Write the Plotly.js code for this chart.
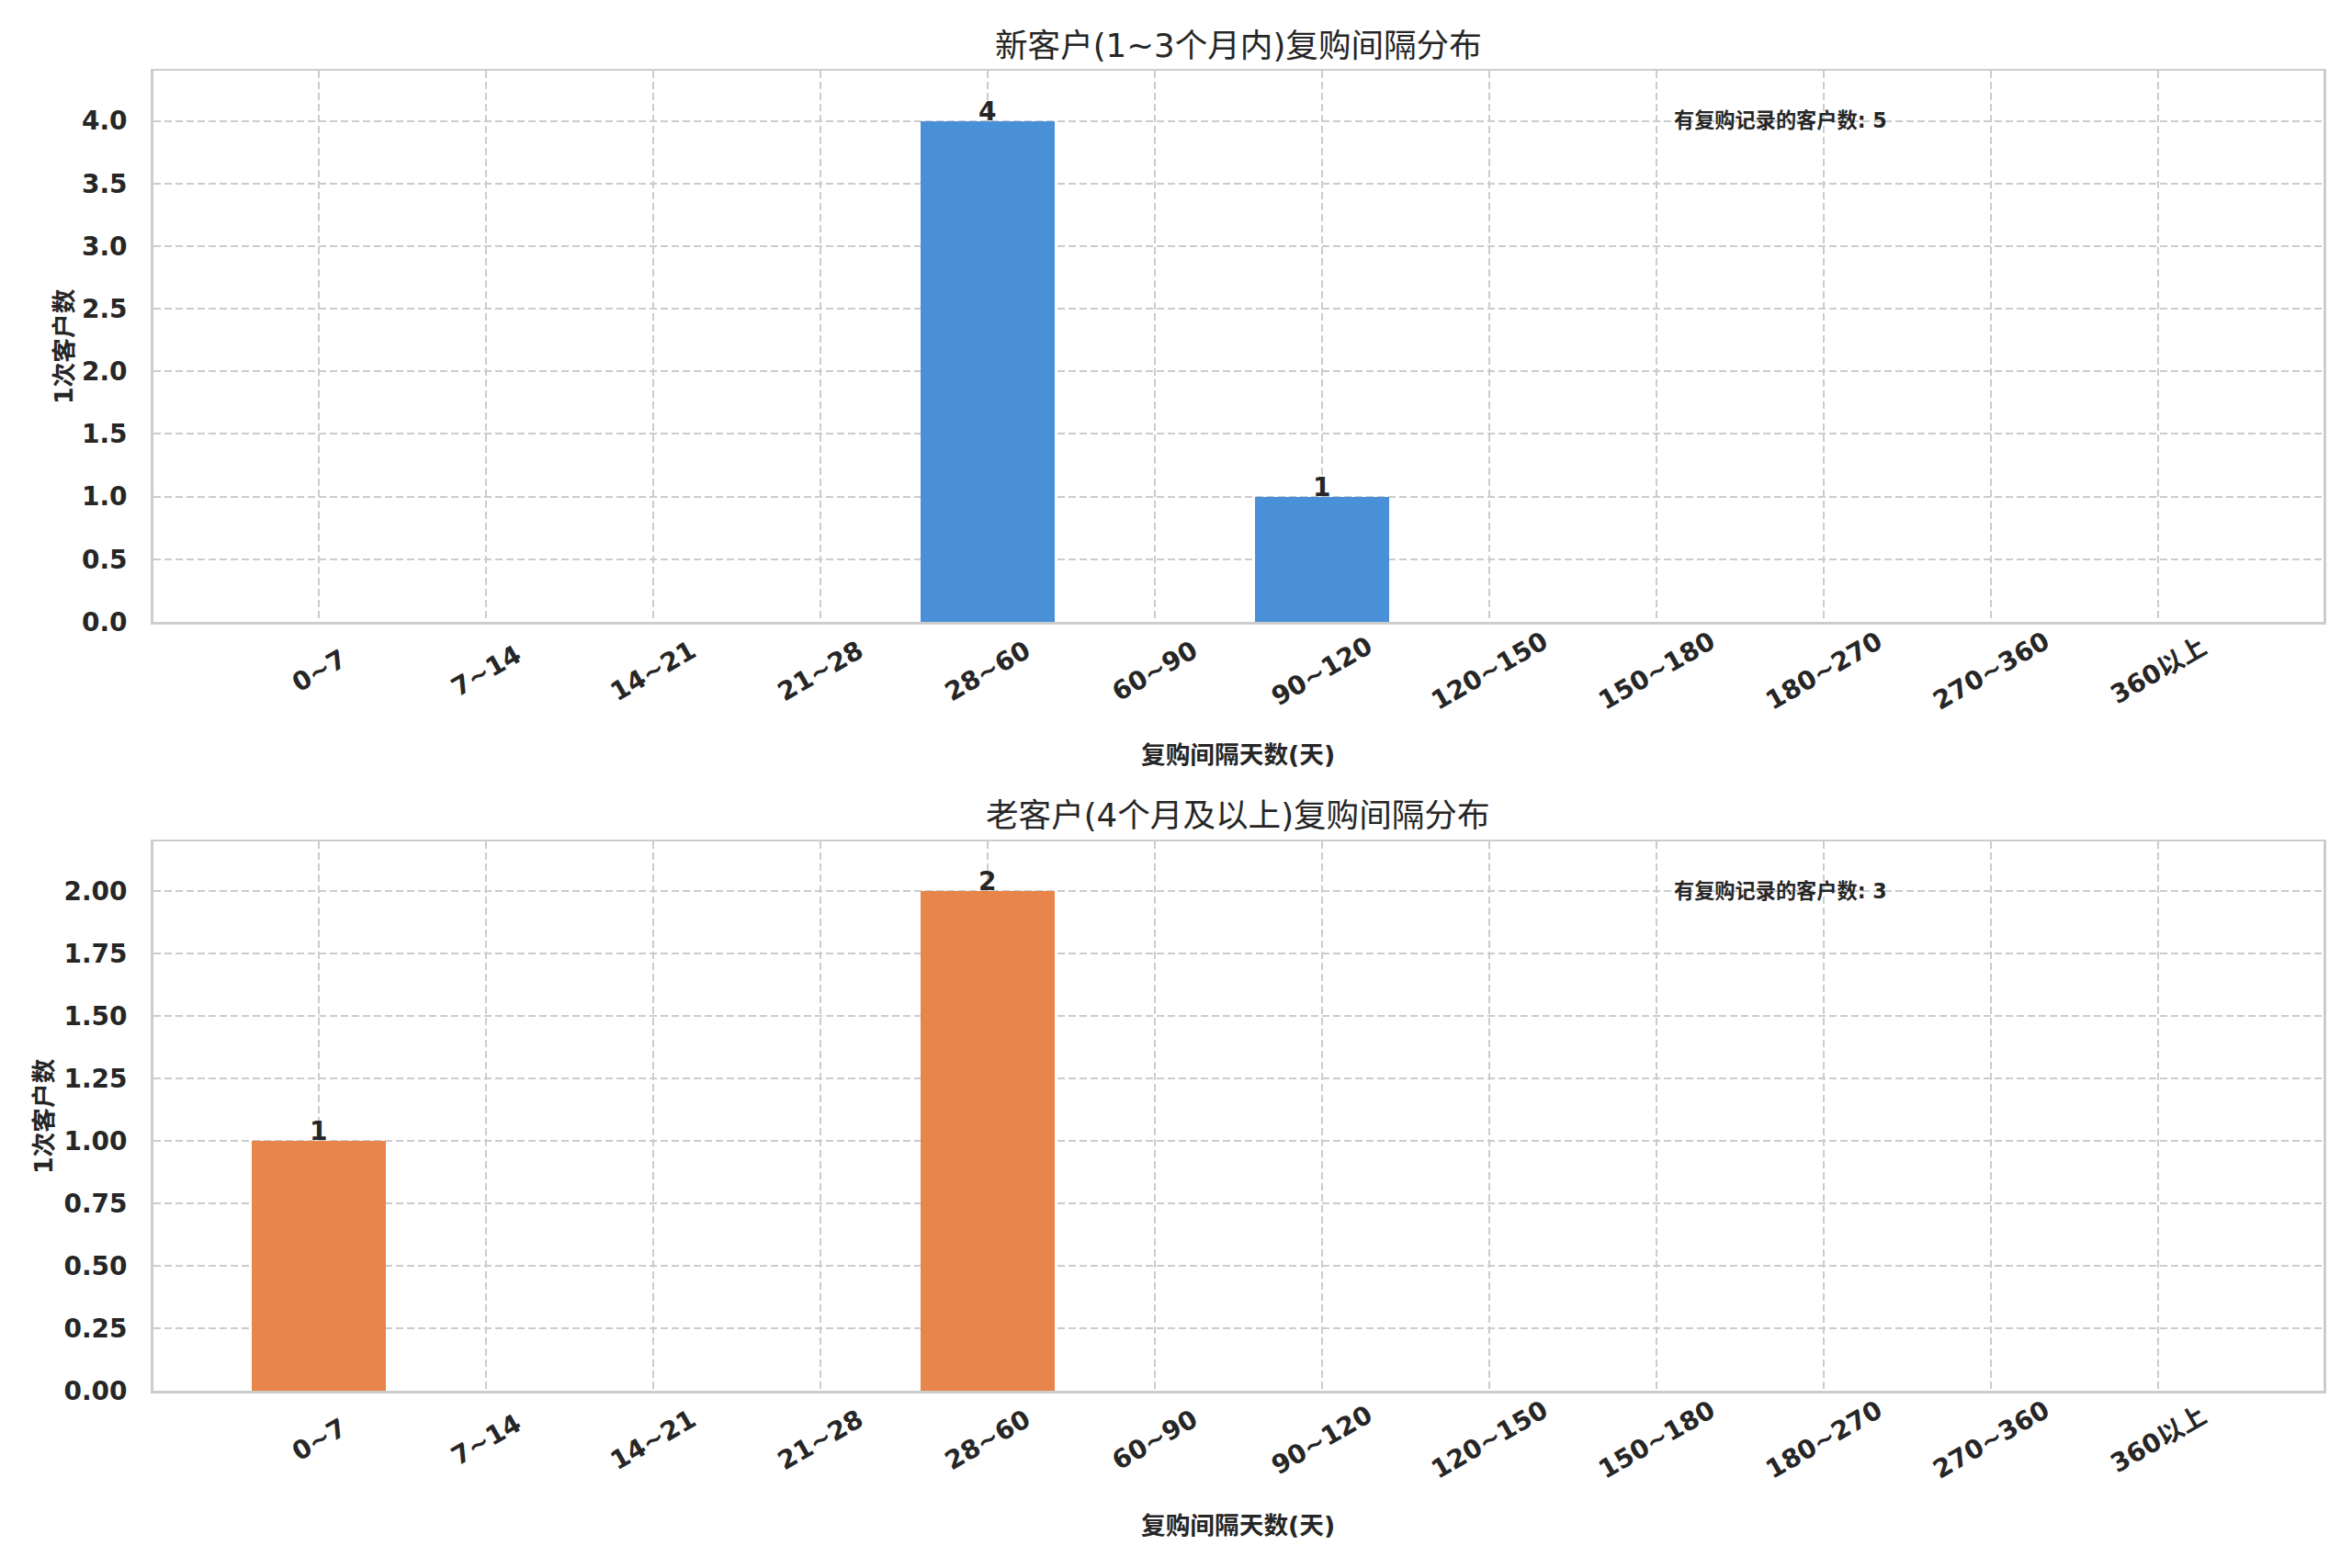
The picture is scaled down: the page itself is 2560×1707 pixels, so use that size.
<!DOCTYPE html>
<html>
<head>
<meta charset="utf-8">
<script src="https://cdn.plot.ly/plotly-3.0.1.min.js"></script>
<style>
  html, body { margin: 0; padding: 0; background: #ffffff; }
  #chart { width: 2560px; height: 1707px; }
</style>
</head>
<body>
<div id="chart"></div>
<script>
  "use strict";

  // bins of days between purchases
  var CATEGORIES = ["0~7", "7~14", "14~21", "21~28", "28~60", "60~90",
    "90~120", "120~150", "150~180", "180~270", "270~360", "360以上"];

  var NEW_COUNTS = [0, 0, 0, 0, 4, 0, 1, 0, 0, 0, 0, 0];
  var OLD_COUNTS = [1, 0, 0, 0, 2, 0, 0, 0, 0, 0, 0, 0];

  var TITLE_NEW = "新客户(1~3个月内)复购间隔分布";
  var TITLE_OLD = "老客户(4个月及以上)复购间隔分布";
  var X_LABEL = "复购间隔天数(天)";
  var Y_LABEL = "1次客户数";
  var NOTE_LABEL = "有复购记录的客户数";

  var BLUE = "#4a90d9";
  var ORANGE = "#e8854a";
  var INK = "#262626";
  var EDGE = "#cccccc";
  var FONT = '"DejaVu Sans", "Noto Sans CJK SC", sans-serif';

  var W = 2560, H = 1707;
  var TICK_SIZE = 28;

  function sum(arr) {
    return arr.reduce(function (a, b) { return a + b; }, 0);
  }

  function barTrace(values, color, axisId) {
    return {
      type: "bar",
      x: CATEGORIES.map(function (c, i) { return i; }),
      y: values,
      width: 0.8,
      marker: { color: color, line: { width: 0 } },
      xaxis: "x" + axisId,
      yaxis: "y" + axisId,
      hoverinfo: "x+y",
      showlegend: false
    };
  }

  function xAxis(anchor) {
    return {
      anchor: anchor,
      domain: [166.7 / W, 2529 / W],
      range: [-0.99, 11.99],
      tickvals: CATEGORIES.map(function (c, i) { return i; }),
      showticklabels: false,
      ticks: "",
      showgrid: true,
      gridcolor: EDGE,
      gridwidth: 2,
      griddash: "8px,4px",
      zeroline: false,
      showline: true,
      mirror: true,
      linecolor: EDGE,
      linewidth: 2.5,
      fixedrange: true
    };
  }

  function yAxis(anchor, domain, range, dtick, fmt) {
    return {
      anchor: anchor,
      domain: domain,
      range: range,
      dtick: dtick,
      tick0: 0,
      tickformat: fmt,
      ticks: "",
      ticklabelstandoff: 20,
      tickfont: { family: FONT, size: TICK_SIZE, color: INK, weight: "bold" },
      showgrid: true,
      gridcolor: EDGE,
      gridwidth: 2,
      griddash: "8px,4px",
      zeroline: false,
      showline: true,
      mirror: true,
      linecolor: EDGE,
      linewidth: 2.5,
      fixedrange: true
    };
  }

  function panelAnnotations(axisId, values, title, titleY, xLabelY, yLabelX) {
    var xr = "x" + axisId, yr = "y" + axisId;
    var out = [];

    out.push({
      text: title, xref: xr + " domain", yref: "paper",
      x: 0.5, y: 1 - titleY / H, xanchor: "center", yanchor: "middle",
      showarrow: false,
      font: { family: FONT, size: 35.6, color: INK }
    });

    out.push({
      text: X_LABEL, xref: xr + " domain", yref: "paper",
      x: 0.5, y: 1 - xLabelY / H, xanchor: "center", yanchor: "middle",
      showarrow: false,
      font: { family: FONT, size: 26.7, color: INK, weight: "bold" }
    });

    out.push({
      text: Y_LABEL, xref: "paper", yref: yr + " domain",
      x: yLabelX / W, y: 0.5, xanchor: "center", yanchor: "middle",
      textangle: -90, showarrow: false,
      font: { family: FONT, size: 26.7, color: INK, weight: "bold" }
    });

    out.push({
      text: NOTE_LABEL + ": " + sum(values), xref: xr + " domain", yref: yr + " domain",
      x: 0.70, y: 0.91, xanchor: "left", yanchor: "middle",
      showarrow: false,
      font: { family: FONT, size: 22.2, color: INK, weight: "bold" }
    });

    // rotated category labels, centred on the tick like matplotlib
    CATEGORIES.forEach(function (c, i) {
      out.push({
        text: c, xref: xr, yref: yr + " domain",
        x: i, y: 0, yshift: -53, xanchor: "center", yanchor: "middle",
        textangle: -30, showarrow: false,
        font: { family: FONT, size: TICK_SIZE, color: INK, weight: "bold" }
      });
    });

    // value labels over non-empty bars
    values.forEach(function (v, i) {
      if (!v) { return; }
      out.push({
        text: String(v), xref: xr, yref: yr,
        x: i, y: v, yshift: -8, xanchor: "center", yanchor: "bottom",
        showarrow: false,
        font: { family: FONT, size: 28, color: INK, weight: "bold" }
      });
    });

    return out;
  }

  var traces = [
    barTrace(NEW_COUNTS, BLUE, ""),
    barTrace(OLD_COUNTS, ORANGE, "2")
  ];

  var layout = {
    width: W,
    height: H,
    paper_bgcolor: "#ffffff",
    plot_bgcolor: "#ffffff",
    margin: { t: 0, r: 0, b: 0, l: 0 },
    font: { family: FONT, color: INK },
    bargap: 0,
    xaxis: xAxis("y"),
    yaxis: yAxis("x", [1 - 677 / H, 1 - 77 / H], [0, 4.4], 0.5, ".1f"),
    xaxis2: xAxis("y2"),
    yaxis2: yAxis("x2", [1 - 1514 / H, 1 - 916 / H], [0, 2.2], 0.25, ".2f"),
    annotations: panelAnnotations("", NEW_COUNTS, TITLE_NEW, 49, 821, 69)
      .concat(panelAnnotations("2", OLD_COUNTS, TITLE_OLD, 887, 1660, 47)),
    showlegend: false
  };

  Plotly.newPlot("chart", traces, layout, { displayModeBar: false, staticPlot: true });
</script>
</body>
</html>
